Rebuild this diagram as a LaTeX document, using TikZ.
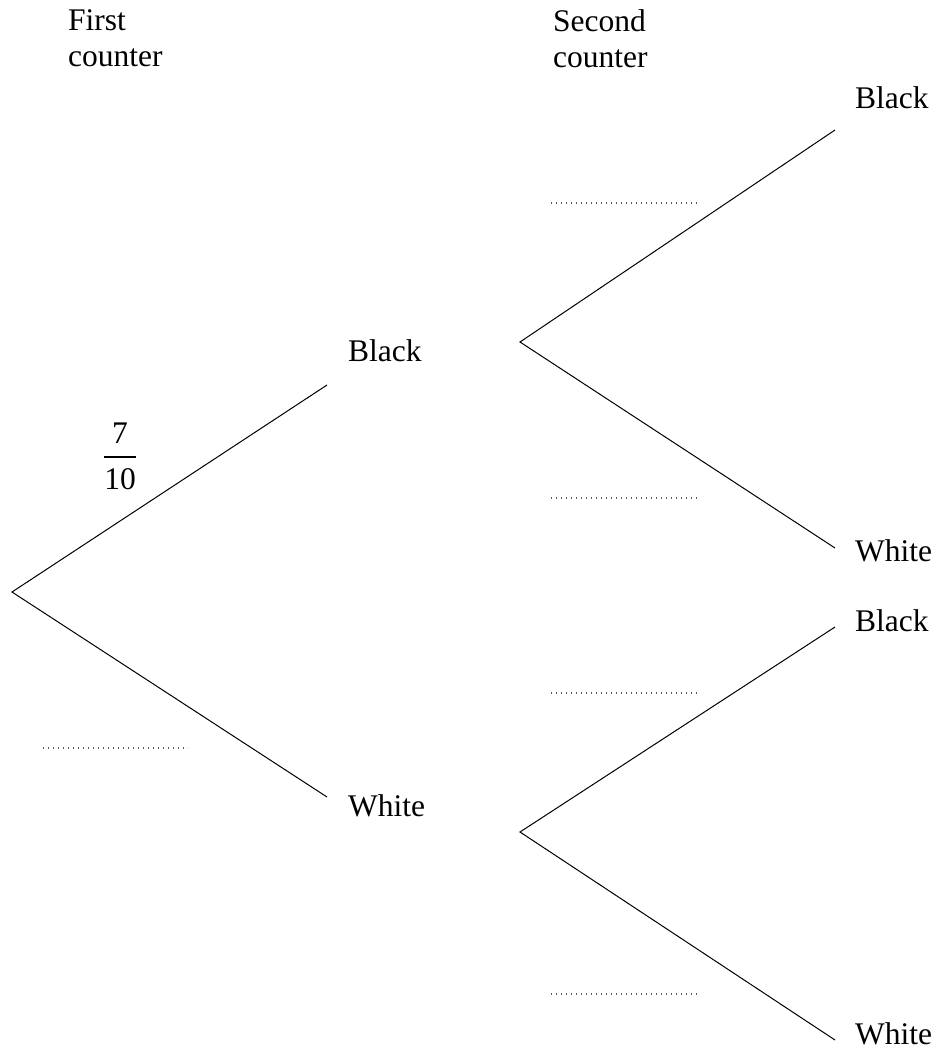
\documentclass[tikz,border=0pt]{standalone}
\usepackage{fontspec}
\setmainfont{Liberation Serif}
\begin{document}
\begin{tikzpicture}[x=1pt,y=-1pt,
  lbl/.style={anchor=base west,inner sep=0pt,font=\fontsize{31.5}{36}\selectfont},
  hdr/.style={anchor=north west,inner sep=0pt,align=left,font=\fontsize{31.5}{36}\selectfont},
  fnumstyle/.style={inner sep=0pt,font=\fontsize{31.5}{36}\selectfont},
  branch/.style={line width=1pt,black},
  blank/.style={line width=1.3pt,black!65,dash pattern=on 1.2pt off 3.8pt}]
\useasboundingbox (0,0) rectangle (936,1058);
% headers
\node[hdr] (h1) at (68,9) {First\\counter};
\node[hdr] (h2) at (553,9) {Second\\counter};
% tree points
\coordinate (r) at (12,592);
\coordinate (b1) at (327,385);
\coordinate (w1) at (327,797);
\coordinate (rb) at (520,342);
\coordinate (rw) at (520,832);
\coordinate (bb) at (835,130);
\coordinate (bw) at (835,548);
\coordinate (wb) at (835,627);
\coordinate (ww) at (835,1040);
\draw[branch] (b1) -- (r) -- (w1);
\draw[branch] (bb) -- (rb) -- (bw);
\draw[branch] (wb) -- (rw) -- (ww);
% labels
\node[lbl] (lb1) at (348,361) {Black};
\node[lbl] (lw1) at (348,816) {White};
\node[lbl] (lbb) at (855,108) {Black};
\node[lbl] (lbw) at (855,561) {White};
\node[lbl] (lwb) at (855,631) {Black};
\node[lbl] (lww) at (855,1044) {White};
% fraction
\node[fnumstyle,anchor=base] (fnum) at (120,443) {7};
\node[fnumstyle,anchor=base] (fden) at (120,489) {10};
\coordinate (fbl) at (104,457); \coordinate (fbr) at (136,457);
\draw[line width=1.2pt] (fbl) -- (fbr);
% blanks
\coordinate (d1a) at (43,748); \coordinate (d1b) at (188,748);
\coordinate (d2a) at (551,203); \coordinate (d2b) at (697,203);
\coordinate (d3a) at (551,498); \coordinate (d3b) at (697,498);
\coordinate (d4a) at (551,693); \coordinate (d4b) at (697,693);
\coordinate (d5a) at (551,994); \coordinate (d5b) at (697,994);
\draw[blank] (d1a) -- (d1b);
\draw[blank] (d2a) -- (d2b);
\draw[blank] (d3a) -- (d3b);
\draw[blank] (d4a) -- (d4b);
\draw[blank] (d5a) -- (d5b);
\end{tikzpicture}
\end{document}
